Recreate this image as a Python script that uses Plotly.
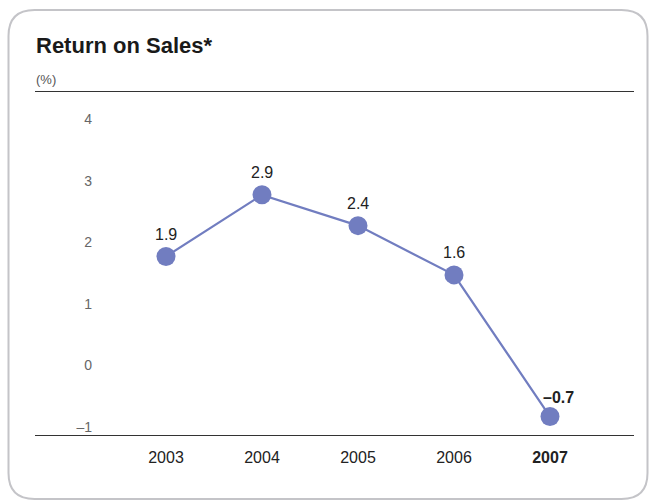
import plotly.graph_objects as go

years = ["2003", "2004", "2005", "2006", "2007"]
values = [1.9, 2.9, 2.4, 1.6, -0.7]
value_labels = ["1.9", "2.9", "2.4", "1.6", "–0.7"]
year_labels = ["2003", "2004", "2005", "2006", "<b>2007</b>"]
y_ticks = [-1, 0, 1, 2, 3, 4]
y_tick_labels = ["–1", "0", "1", "2", "3", "4"]

W, H = 656, 502
L, R, T, B = 35, 634, 92, 435
FONT = "Liberation Sans, Arial"


def px(xp):
    return (xp - L) / (R - L)


def py(yp):
    return (B - yp) / (B - T)


x_idx = list(range(len(years)))

fig = go.Figure()
fig.add_trace(go.Scatter(
    x=x_idx, y=values, mode="lines+markers",
    line=dict(color="#717dc0", width=2.2),
    marker=dict(size=19, color="#717dc0"),
    hoverinfo="skip", showlegend=False,
))

for i, (v, lab) in enumerate(zip(values, value_labels)):
    bold = i == len(values) - 1
    fig.add_annotation(
        x=i, y=v, xref="x", yref="y",
        text=f"<b>{lab}</b>" if bold else lab,
        showarrow=False, yshift=19 if bold else 22, xshift=8 if bold else 0,
        font=dict(family=FONT, size=16, color="#222"),
    )

# rounded frame
x0, x1, y0, y1, r = 8.5, 647.5, 10, 499, 26
path = (f"M {px(x0+r)},{py(y0)} L {px(x1-r)},{py(y0)} Q {px(x1)},{py(y0)} {px(x1)},{py(y0+r)} "
        f"L {px(x1)},{py(y1-r)} Q {px(x1)},{py(y1)} {px(x1-r)},{py(y1)} "
        f"L {px(x0+r)},{py(y1)} Q {px(x0)},{py(y1)} {px(x0)},{py(y1-r)} "
        f"L {px(x0)},{py(y0+r)} Q {px(x0)},{py(y0)} {px(x0+r)},{py(y0)} Z")
fig.add_shape(type="path", path=path, xref="paper", yref="paper",
              line=dict(color="#c4c4c8", width=2), layer="below")

fig.add_annotation(x=px(34), y=py(45), xref="paper", yref="paper",
                   text="<b>Return on Sales*</b>", showarrow=False,
                   xanchor="left", yanchor="middle",
                   font=dict(family=FONT, size=22, color="#1a1a1a"))
fig.add_annotation(x=px(34), y=py(80), xref="paper", yref="paper",
                   text="(%)", showarrow=False, xanchor="left", yanchor="middle",
                   font=dict(family=FONT, size=13, color="#555"))

fig.update_layout(
    width=W, height=H,
    margin=dict(l=L, r=W - R, t=T, b=H - B),
    paper_bgcolor="white", plot_bgcolor="white",
    xaxis=dict(
        range=[(L - 166) / 96.0, (R - 166) / 96.0],
        tickvals=x_idx, ticktext=year_labels,
        showgrid=False, zeroline=False,
        showline=True, linecolor="#333", linewidth=1, mirror=True,
        ticks="", tickfont=dict(family=FONT, size=16, color="#222"),
        ticklabelstandoff=8,
    ),
    yaxis=dict(
        range=[-1.0, 4.57],
        tickvals=y_ticks, ticktext=y_tick_labels,
        showgrid=False, zeroline=False, showline=False,
        ticks="", anchor="free", position=px(92),
        tickfont=dict(family=FONT, size=14, color="#666"),
        ticklabelshift=-8,
    ),
)

fig.write_html("out.html", config={"displayModeBar": False},
               post_script="document.body.style.margin='0px';")
